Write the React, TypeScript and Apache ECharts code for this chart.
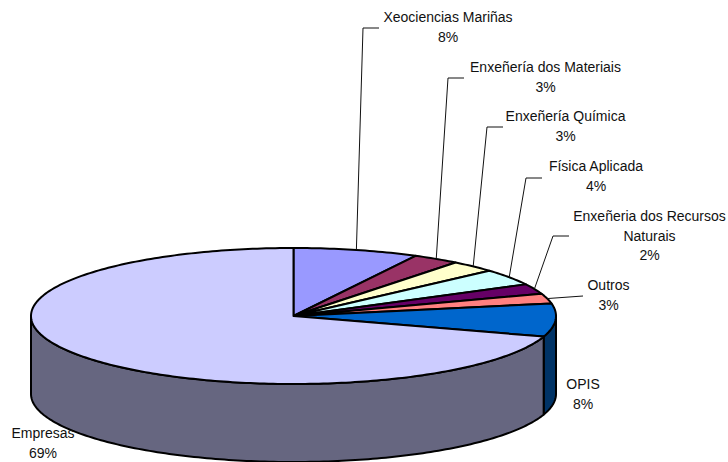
import React, { useEffect, useRef } from "react";
import * as echarts from "echarts";

const categories = [
  "Xeociencias Mariñas",
  "Enxeñería dos Materiais",
  "Enxeñería Química",
  "Física Aplicada",
  "Enxeñeria dos Recursos\nNaturais",
  "Outros",
  "OPIS",
  "Empresas",
];
const shares = [7.7, 2.9, 2.8, 3.9, 2.4, 2.35, 7.85, 70.1];
const percentLabels = ["8%", "3%", "3%", "4%", "2%", "3%", "8%", "69%"];

const topColors = ["#9999FF", "#993366", "#FFFFCC", "#CCFFFF", "#660066", "#FF8080", "#0066CC", "#CCCCFF"];
const wallColors = ["#4C4C80", "#4C1933", "#808066", "#668080", "#330033", "#804040", "#003366", "#666680"];

// Layout of the tilted pie, in pixels
const CX = 293.5;
const CY = 316;
const RX = 262.5;
const RY = 68;
const DEPTH = 78;

// label centre and first-line y; leader elbow and end (null when no leader)
const labelBoxes: { x: number; y: number; elbow: number[] | null; end: number[] | null }[] = [
  { x: 448, y: 17, elbow: [363, 28], end: [379, 28] },
  { x: 545.5, y: 67, elbow: [448, 78], end: [464, 78] },
  { x: 565.5, y: 116, elbow: [487, 127], end: [503, 127] },
  { x: 596, y: 166, elbow: [526, 178], end: [542, 178] },
  { x: 649.5, y: 216, elbow: [553, 236], end: [569, 236] },
  { x: 608.5, y: 285, elbow: null, end: [583, 296] },
  { x: 583, y: 384, elbow: null, end: null },
  { x: 43, y: 433, elbow: null, end: null },
];

const total = shares.reduce((a, b) => a + b, 0);
const rim = (deg: number, dy = 0): number[] => {
  const r = (deg * Math.PI) / 180;
  return [CX + RX * Math.sin(r), CY - RY * Math.cos(r) + dy];
};
const arc = (from: number, to: number, dy = 0): number[][] => {
  const pts: number[][] = [];
  const n = Math.max(2, Math.ceil(to - from));
  for (let i = 0; i <= n; i++) pts.push(rim(from + ((to - from) * i) / n, dy));
  return pts;
};

const renderItem = (params: any, api: any) => {
  const i = params.dataIndex;
  const before = shares.slice(0, i).reduce((a, b) => a + b, 0);
  const start = (before / total) * 360;
  const end = start + (api.value(0) / total) * 360;
  const mid = (start + end) / 2;
  const children: any[] = [];

  const wallFrom = Math.max(start, 90);
  const wallTo = Math.min(end, 270);
  if (wallTo > wallFrom) {
    children.push({
      type: "polygon",
      shape: { points: [...arc(wallFrom, wallTo), ...arc(wallFrom, wallTo, DEPTH).reverse()] },
      style: { fill: wallColors[i], stroke: "#000", lineWidth: 2, lineJoin: "round" },
    });
  }
  children.push({
    type: "polygon",
    shape: { points: [[CX, CY], ...arc(start, end)] },
    style: { fill: topColors[i], stroke: "#000", lineWidth: 2, lineJoin: "round" },
  });

  const box = labelBoxes[i];
  if (box.end) {
    const pts = [rim(mid), ...(box.elbow ? [box.elbow] : []), box.end];
    children.push({
      type: "polyline",
      shape: { points: pts },
      style: { fill: "none", stroke: "#111", lineWidth: 1 },
    });
  }
  const lines = [...categories[i].split("\n"), percentLabels[i]];
  lines.forEach((line, k) => {
    children.push({
      type: "text",
      style: {
        text: line,
        x: box.x,
        y: box.y + k * 19.5,
        textAlign: "center",
        textVerticalAlign: "middle",
        fill: "#111",
        font: "14px 'Liberation Sans', Arial, sans-serif",
      },
    });
  });
  return { type: "group", children };
};

export default function App() {
  const ref = useRef<HTMLDivElement>(null);
  useEffect(() => {
    const chart = echarts.init(ref.current!, null, { renderer: "svg" });
    chart.setOption({
      animation: false,
      backgroundColor: "#fff",
      series: [
        {
          type: "custom",
          coordinateSystem: "none",
          silent: true,
          clip: false,
          data: shares.map((v, i) => ({ name: categories[i], value: [v] })),
          renderItem,
        },
      ],
    });
    return () => chart.dispose();
  }, []);
  return <div ref={ref} style={{ position: "fixed", left: 0, top: 0, width: 728, height: 462 }} />;
}
